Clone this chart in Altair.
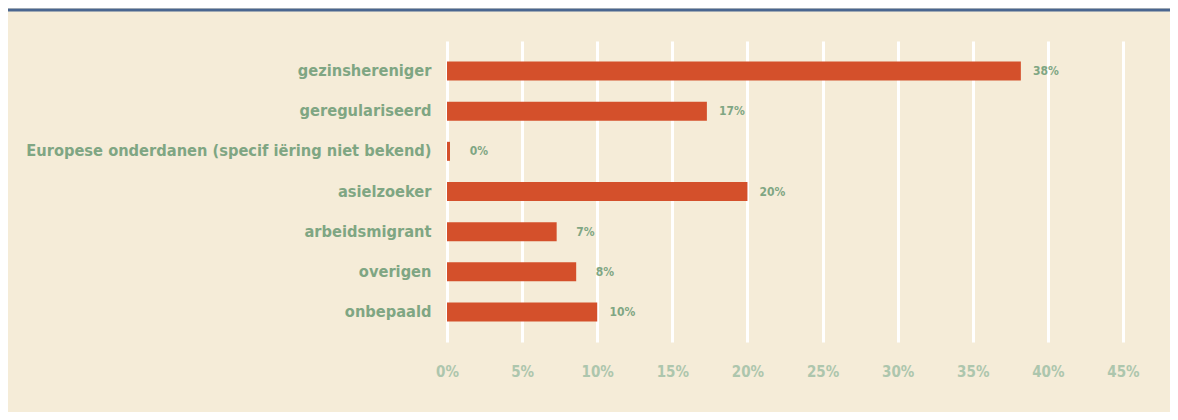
import altair as alt
import pandas as pd

categories = [
    "gezinshereniger",
    "geregulariseerd",
    "Europese onderdanen (specif iëring niet bekend)",
    "asielzoeker",
    "arbeidsmigrant",
    "overigen",
    "onbepaald",
]
values = [38.2, 17.3, 0.2, 20.0, 7.3, 8.6, 10.0]
value_labels = ["38%", "17%", "0%", "20%", "7%", "8%", "10%"]
x_ticks = [0, 5, 10, 15, 20, 25, 30, 35, 40, 45]

df = pd.DataFrame({"cat": categories, "val": values, "lab": value_labels})

FONT = "DejaVu Sans Condensed, sans-serif"
BG = "#f5ecd8"
GREEN = "#7fa683"
LIGHT = "#adc6ad"
BAR = "#d4502b"

y = alt.Y(
    "cat:N",
    sort=categories,
    scale=alt.Scale(paddingInner=0.527, paddingOuter=0.51),
    axis=alt.Axis(
        title=None, domain=False, ticks=False, grid=False,
        labelFont=FONT, labelFontSize=16.3, labelFontWeight="bold",
        labelColor=GREEN, labelPadding=16, labelLimit=600,
    ),
)
x = alt.X(
    "val:Q",
    scale=alt.Scale(domain=[0, 45], nice=False),
    axis=alt.Axis(
        title=None, domain=False, ticks=False, values=x_ticks,
        labelExpr="datum.value + '%'", grid=True, gridColor="#ffffff",
        gridWidth=3, gridOpacity=1, labelFont=FONT, labelFontSize=15,
        labelFontWeight="bold", labelColor=LIGHT, labelPadding=22,
        labelFlush=False,
    ),
)

bars = alt.Chart(df).mark_bar(color=BAR).encode(x=x, y=y)

texts = alt.Chart(df).mark_text(
    align="right", baseline="middle", dx=38, font=FONT, fontSize=12,
    fontWeight="bold", color=GREEN,
).encode(x="val:Q", y=alt.Y("cat:N", sort=categories), text="lab:N")

topline = alt.Chart(pd.DataFrame({"a": [0]})).mark_rule(
    color="#4a6690", strokeWidth=3
).encode(x=alt.value(-439), x2=alt.value(723), y=alt.value(-31))

chart = (
    alt.layer(bars, texts, topline)
    .properties(
        width=676,
        height=301,
        autosize=alt.AutoSizeParams(type="none"),
        padding={"left": 439, "top": 33, "right": 47, "bottom": 70},
        background=BG,
    )
    .configure_view(stroke=None)
)

chart.save("out.html", embed_options={"renderer": "svg", "actions": False})
